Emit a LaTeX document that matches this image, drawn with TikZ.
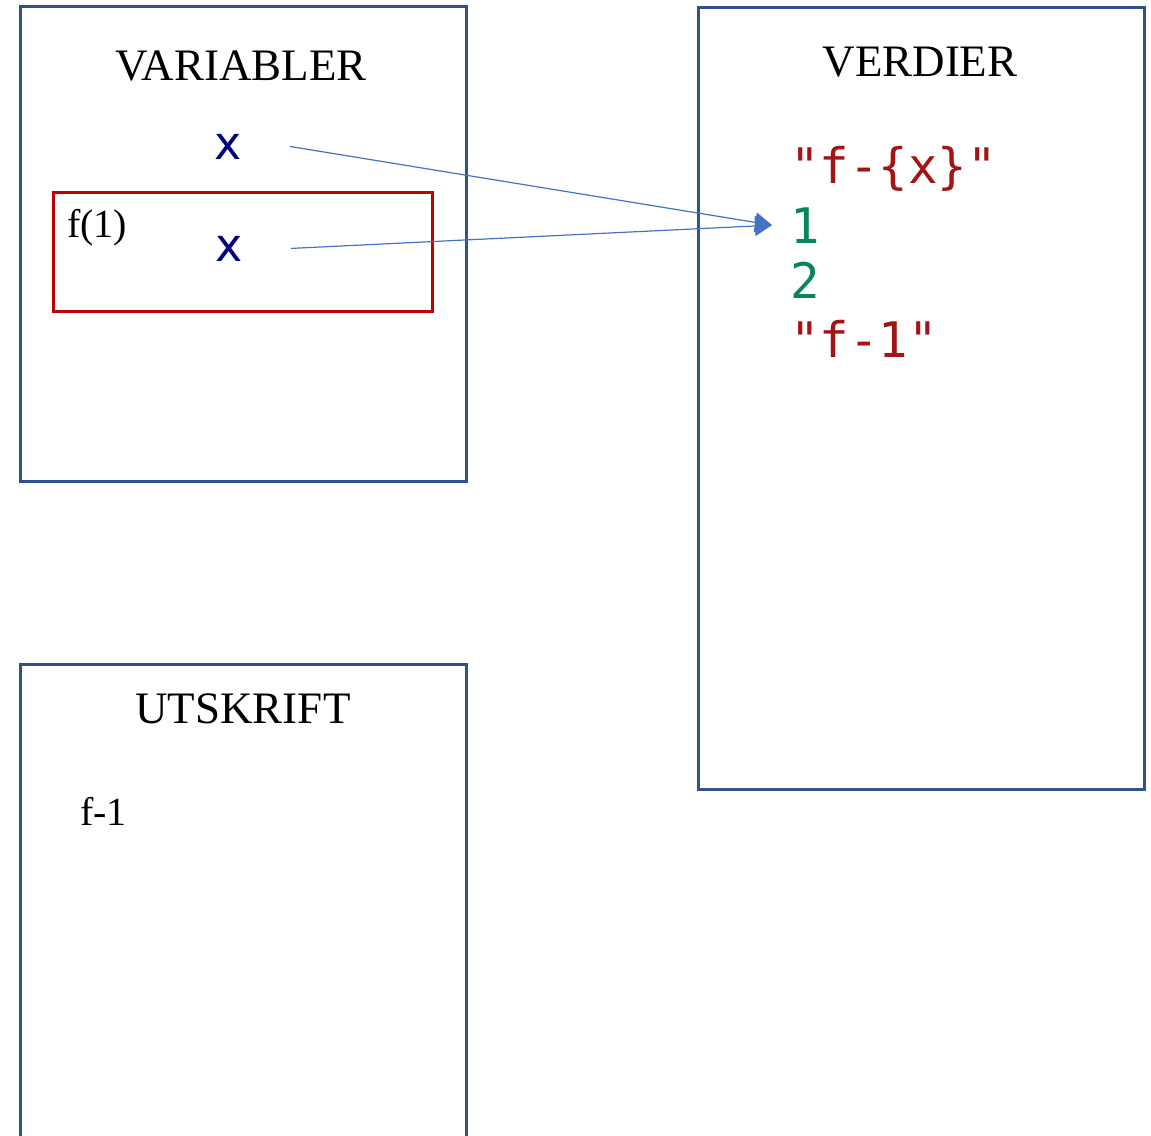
\documentclass[tikz,border=0pt]{standalone}
\usepackage{fontspec}
\setmainfont{Liberation Serif}
\newfontfamily\varfont{DejaVu Sans}
\newfontfamily\codefont{DejaVu Sans Mono}
\usepackage{xcolor}
\usetikzlibrary{arrows.meta}
\definecolor{boxblue}{HTML}{2F528F}
\definecolor{framered}{HTML}{C00000}
\definecolor{varblue}{HTML}{000080}
\definecolor{ptrblue}{HTML}{4472C4}
\definecolor{strred}{HTML}{A31515}
\definecolor{numgreen}{HTML}{098658}

\begin{document}
\begin{tikzpicture}[x=1pt,y=-1pt,
  panel/.style={draw=boxblue,line width=2.5pt,anchor=north west,inner sep=0pt},
  frame/.style={draw=framered,line width=2.5pt,anchor=north west,inner sep=0pt},
  title/.style={anchor=base,inner sep=0pt,font=\fontsize{45}{50}\selectfont},
  var/.style={anchor=base,inner sep=0pt,text=varblue,font=\varfont\fontsize{46}{50}\selectfont},
  val/.style={anchor=base west,inner sep=0pt,font=\codefont\fontsize{49}{53}\selectfont},
  ptr/.style={draw=ptrblue,line width=1.2pt,-{Triangle[length=17pt,width=20pt]}}]
  \useasboundingbox (0,0) rectangle (1151,1135);
  % the three panels
  \node[panel,minimum width=446pt,minimum height=475pt] (variabler) at (19,5) {};
  \node[panel,minimum width=446pt,minimum height=782pt] (verdier) at (697,6) {};
  \node[panel,minimum width=446pt,minimum height=520pt] (utskrift) at (19,663) {};
  \node[title] (vartitle) at (241,80) {VARIABLER};
  \node[title] (valtitle) at (920,76) {VERDIER};
  \node[title] (outtitle) at (243,723) {UTSKRIFT};
  % frame of the call f(1)
  \node[frame,minimum width=379pt,minimum height=119pt] (callframe) at (52,191) {};
  \node[anchor=base west,inner sep=0pt,font=\fontsize{40}{44}\selectfont] (fcall) at (67,237) {f(1)};
  % names
  \node[var] (xglob) at (228,159) {x};
  \node[var] (xloc) at (229,261) {x};
  % values
  \node[val,text=strred] (fmt) at (790,183) {"f-\{x\}"};
  \node[val,text=numgreen] (one) at (790,243) {1};
  \node[val,text=numgreen] (two) at (790,298) {2};
  \node[val,text=strred] (res) at (790,357) {"f-1"};
  % printed output
  \node[anchor=base west,inner sep=0pt,font=\fontsize{40}{44}\selectfont] (printed) at (80,825) {f-1};
  % references
  \draw[ptr] ([xshift=48pt]xglob.east) -- ([xshift=-18pt]one.west);
  \draw[ptr] ([xshift=48pt]xloc.east) -- ([xshift=-18pt]one.west);
\end{tikzpicture}
\end{document}
